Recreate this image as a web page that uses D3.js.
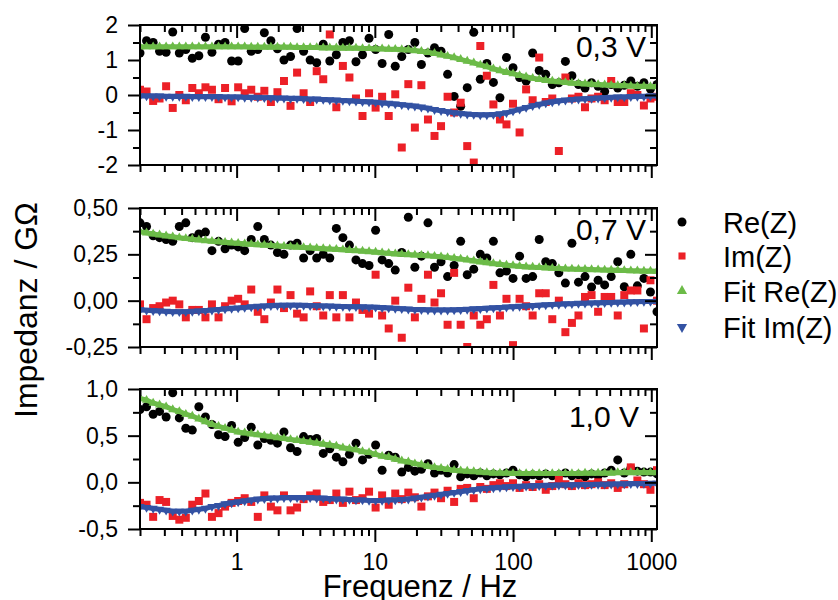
<!DOCTYPE html>
<meta charset="utf-8">
<style>
body {
  margin: 0;
  background: #fff;
}
svg {
  font-family: "Liberation Sans", Arial, sans-serif;
}
.tick line {
  stroke: #000;
  stroke-width: 2px;
}
.tick text {
  font-size: 23px;
  font-family: "Liberation Sans", Arial, sans-serif;
  fill: #000;
}
.frame {
  fill: none;
  stroke: #000;
  stroke-width: 2px;
}
.title {
  font-size: 31px;
  fill: #000;
}
.vlabel {
  font-size: 30px;
  fill: #000;
}
.legend text {
  font-size: 29px;
  fill: #000;
}
.fitline {
  fill: none;
  stroke-width: 5px;
}
</style>
<body>
<script src="https://cdn.jsdelivr.net/npm/d3@7"></script>
<script>
// frequencies of the sweep (Hz)
var freq = [0.200,0.223,0.249,0.277,0.309,0.345,0.385,0.429,0.478,0.533,
  0.595,0.663,0.740,0.825,0.920,1.026,1.144,1.276,1.423,1.587,
  1.770,1.974,2.201,2.455,2.738,3.053,3.404,3.797,4.234,4.722,
  5.266,5.872,6.549,7.303,8.144,9.082,10.13,11.29,12.60,14.05,
  15.66,17.47,19.48,21.72,24.23,27.02,30.13,33.60,37.47,41.78,
  46.60,51.96,57.95,64.62,72.07,80.37,89.62,99.95,111.5,124.3,
  138.6,154.6,172.4,192.2,214.4,239.1,266.6,297.3,331.6,369.8,
  412.4,459.9,512.9,571.9,637.8,711.2,793.2,884.5,986.3,1100];

// 0,3 V
var re03 = [1.2,1.55,1.5,1.25,1.22,1.8,1.2,1.3,1.05,1.12,
  1.65,1.22,1.45,1.5,0.97,0.97,1.9,1.25,1.3,1.78,
  1.55,1.32,1.0,1.1,1.9,1.25,1.0,0.92,1.45,0.97,
  1.15,1.5,1.55,0.95,1.15,1.62,1.3,0.9,1.73,0.82,
  1.1,1.3,1.5,0.87,1.2,1.35,1.25,0.59,-0.04,-0.32,
  0.21,1.79,0.45,0.9,0.36,-0.08,1.07,0.78,0.5,0.4,
  1.2,0.7,0.59,0.3,0.35,0.96,0.55,0.3,0.2,0.35,
  0.25,0.1,0.3,0.2,0.28,0.4,0.25,0.35,0.17,0.3];
var im03 = [0.15,0.1,-0.17,-0.1,0.25,-0.37,0.0,-0.15,0.2,0.05,
  0.22,0.15,-0.12,0.2,-0.18,0.22,0.05,0.15,-0.05,0.12,
  -0.2,0.08,0.4,-0.31,0.64,0.05,-0.2,0.68,0.45,1.73,
  -0.35,0.83,0.5,-0.1,-0.6,0.05,-0.36,-0.05,-0.6,0.02,
  -1.5,0.31,-0.93,0.28,-0.7,-1.17,-0.89,-0.05,-0.5,-0.22,
  -1.46,-1.93,1.4,0.55,-0.27,-0.7,-0.84,-0.25,-1.07,0.16,
  -0.15,1.07,-0.2,-0.1,-1.6,0.5,-0.1,-0.05,-0.35,-0.1,
  -0.05,-0.15,0.4,-0.2,-0.2,0.05,0.0,-0.3,-0.1,-0.05];
var fitRe03 = [1.38,1.38,1.38,1.38,1.38,1.38,1.38,1.38,1.38,1.38,
  1.38,1.38,1.38,1.38,1.38,1.38,1.38,1.37,1.37,1.37,
  1.37,1.37,1.37,1.37,1.36,1.36,1.36,1.36,1.35,1.35,
  1.35,1.34,1.34,1.34,1.33,1.33,1.32,1.32,1.31,1.31,
  1.30,1.29,1.27,1.25,1.22,1.19,1.15,1.11,1.07,1.02,
  0.97,0.92,0.86,0.81,0.75,0.70,0.65,0.61,0.56,0.52,
  0.48,0.45,0.42,0.40,0.38,0.36,0.34,0.33,0.32,0.31,
  0.30,0.29,0.28,0.27,0.27,0.26,0.25,0.25,0.24,0.24];
var fitIm03 = [-0.03,-0.03,-0.03,-0.03,-0.04,-0.04,-0.04,-0.04,-0.05,-0.05,
  -0.05,-0.05,-0.05,-0.06,-0.06,-0.06,-0.07,-0.07,-0.07,-0.08,
  -0.08,-0.09,-0.09,-0.10,-0.10,-0.11,-0.12,-0.12,-0.13,-0.14,
  -0.15,-0.16,-0.17,-0.18,-0.19,-0.20,-0.21,-0.23,-0.24,-0.26,
  -0.28,-0.30,-0.32,-0.35,-0.38,-0.42,-0.45,-0.48,-0.51,-0.53,
  -0.55,-0.56,-0.57,-0.57,-0.56,-0.54,-0.51,-0.46,-0.41,-0.36,
  -0.31,-0.27,-0.23,-0.20,-0.17,-0.15,-0.13,-0.12,-0.11,-0.10,
  -0.09,-0.08,-0.07,-0.06,-0.06,-0.05,-0.04,-0.04,-0.03,-0.03];

// 0,7 V
var re07 = [0.42,0.40,0.35,0.34,0.33,0.32,0.40,0.42,0.34,0.36,
  0.37,0.27,0.32,0.28,0.30,0.29,0.27,0.33,0.40,0.33,
  0.30,0.26,0.25,0.30,0.31,0.23,0.27,0.23,0.25,0.23,
  0.39,0.34,0.30,0.22,0.20,0.19,0.38,0.22,0.20,0.165,
  0.26,0.45,0.18,0.24,0.42,0.18,0.21,0.13,0.19,0.32,
  0.14,0.17,0.25,0.23,0.32,0.15,0.16,0.12,0.24,0.12,
  0.13,0.33,0.21,0.20,0.15,0.095,0.31,0.10,0.13,0.074,
  0.11,0.085,0.13,0.21,0.075,0.25,0.08,0.12,0.047,-0.06];
var im07 = [-0.02,-0.10,-0.04,-0.03,-0.01,0.00,-0.02,-0.09,-0.05,-0.05,
  -0.09,-0.02,-0.09,-0.03,0.00,0.01,-0.02,0.06,-0.06,-0.10,
  -0.01,0.06,-0.04,0.03,-0.07,-0.09,0.05,-0.03,-0.08,0.03,
  -0.09,0.03,-0.09,-0.01,-0.05,-0.07,0.14,-0.08,-0.15,0.00,
  -0.20,0.07,-0.09,0.01,0.14,-0.01,0.04,-0.13,0.15,-0.13,
  -0.25,-0.08,-0.13,-0.10,0.085,-0.08,0.01,-0.24,0.01,-0.03,
  -0.08,0.04,0.04,-0.10,0.00,-0.17,-0.12,-0.08,0.02,0.03,
  -0.06,0.02,0.02,-0.08,0.03,0.055,0.055,-0.15,0.11,0.00];
var fitRe07 = [0.372,0.366,0.360,0.355,0.350,0.345,0.340,0.336,0.332,0.328,
  0.324,0.321,0.318,0.315,0.312,0.310,0.307,0.305,0.302,0.300,
  0.298,0.296,0.293,0.291,0.289,0.287,0.285,0.283,0.281,0.279,
  0.277,0.275,0.272,0.270,0.268,0.265,0.262,0.259,0.256,0.253,
  0.251,0.249,0.247,0.245,0.243,0.240,0.237,0.233,0.229,0.225,
  0.220,0.215,0.210,0.205,0.200,0.196,0.192,0.189,0.186,0.183,
  0.181,0.179,0.177,0.175,0.174,0.172,0.171,0.170,0.169,0.168,
  0.167,0.166,0.165,0.164,0.163,0.162,0.161,0.160,0.160,0.159];
var fitIm07 = [-0.050,-0.052,-0.054,-0.056,-0.058,-0.060,-0.060,-0.060,-0.058,-0.056,
  -0.054,-0.051,-0.048,-0.045,-0.042,-0.040,-0.037,-0.034,-0.031,-0.029,
  -0.027,-0.026,-0.025,-0.025,-0.025,-0.026,-0.027,-0.028,-0.029,-0.030,
  -0.031,-0.032,-0.033,-0.033,-0.034,-0.035,-0.036,-0.038,-0.040,-0.042,
  -0.044,-0.046,-0.048,-0.049,-0.050,-0.051,-0.051,-0.051,-0.050,-0.049,
  -0.047,-0.045,-0.043,-0.041,-0.039,-0.037,-0.035,-0.033,-0.031,-0.029,
  -0.027,-0.025,-0.023,-0.021,-0.020,-0.018,-0.017,-0.015,-0.014,-0.013,
  -0.012,-0.011,-0.010,-0.009,-0.008,-0.007,-0.006,-0.005,-0.005,-0.004];

// 1,0 V
var re10 = [0.78,0.81,0.73,0.76,0.70,0.96,0.69,0.58,0.56,0.81,
  0.70,0.62,0.51,0.49,0.61,0.43,0.48,0.59,0.40,0.47,
  0.45,0.42,0.54,0.37,0.33,0.49,0.46,0.47,0.31,0.36,
  0.27,0.22,0.30,0.42,0.24,0.30,0.40,0.13,0.29,0.27,
  0.11,0.16,0.12,0.14,0.20,0.10,0.13,0.10,0.19,0.06,
  0.09,0.07,0.10,0.07,0.09,0.08,0.10,0.13,0.08,0.06,
  0.08,0.07,0.09,0.07,0.08,0.10,0.07,0.08,0.06,0.09,
  0.07,0.10,0.13,0.24,0.10,0.15,0.12,0.11,0.11,0.09];
var im10 = [-0.22,-0.24,-0.37,-0.19,-0.21,-0.36,-0.40,-0.38,-0.24,-0.20,
  -0.12,-0.37,-0.33,-0.26,-0.22,-0.20,-0.17,-0.21,-0.37,-0.14,
  -0.26,-0.30,-0.14,-0.30,-0.27,-0.18,-0.14,-0.12,-0.21,-0.19,
  -0.12,-0.22,-0.10,-0.19,-0.17,-0.10,-0.27,-0.14,-0.24,-0.12,
  -0.18,-0.11,-0.16,-0.26,-0.15,-0.11,-0.17,-0.09,-0.21,-0.07,
  -0.06,-0.17,-0.05,-0.07,-0.03,-0.01,-0.04,-0.01,-0.06,-0.03,
  -0.05,-0.02,-0.08,-0.04,0.03,-0.02,-0.04,-0.01,-0.03,-0.02,
  0.00,-0.03,-0.01,-0.06,-0.02,0.16,0.02,-0.02,-0.08,0.13];
var fitRe10 = [0.90,0.88,0.85,0.83,0.81,0.78,0.76,0.73,0.71,0.68,
  0.65,0.62,0.60,0.58,0.56,0.54,0.53,0.52,0.51,0.50,
  0.49,0.48,0.47,0.46,0.45,0.44,0.43,0.42,0.41,0.40,
  0.39,0.37,0.36,0.35,0.33,0.32,0.30,0.28,0.27,0.25,
  0.23,0.22,0.20,0.19,0.17,0.16,0.15,0.14,0.13,0.125,
  0.12,0.115,0.11,0.105,0.10,0.10,0.10,0.095,0.095,0.095,
  0.095,0.095,0.095,0.095,0.095,0.095,0.095,0.095,0.10,0.10,
  0.10,0.10,0.10,0.105,0.105,0.105,0.105,0.105,0.105,0.105];
var fitIm10 = [-0.26,-0.27,-0.28,-0.29,-0.30,-0.31,-0.31,-0.31,-0.30,-0.29,
  -0.28,-0.26,-0.25,-0.23,-0.22,-0.21,-0.20,-0.19,-0.18,-0.175,
  -0.17,-0.17,-0.165,-0.165,-0.165,-0.165,-0.165,-0.17,-0.17,-0.175,
  -0.18,-0.18,-0.185,-0.19,-0.19,-0.195,-0.195,-0.195,-0.19,-0.19,
  -0.185,-0.18,-0.17,-0.16,-0.15,-0.14,-0.13,-0.12,-0.11,-0.10,
  -0.09,-0.08,-0.07,-0.065,-0.06,-0.055,-0.05,-0.047,-0.044,-0.041,
  -0.038,-0.036,-0.034,-0.032,-0.030,-0.029,-0.028,-0.026,-0.025,-0.024,
  -0.022,-0.021,-0.020,-0.018,-0.017,-0.015,-0.014,-0.013,-0.012,-0.011];

// ticks
var xTicks = [1, 10, 100, 1000];
var xTickLabels = ["1", "10", "100", "1000"];
var yTicks03 = [-2, -1, 0, 1, 2];
var yTickLabels03 = ["-2", "-1", "0", "1", "2"];
var yTicks07 = [-0.25, 0, 0.25, 0.5];
var yTickLabels07 = ["-0,25", "0,00", "0,25", "0,50"];
var yTicks10 = [-0.5, 0, 0.5, 1.0];
var yTickLabels10 = ["-0,5", "0,0", "0,5", "1,0"];

var voltages = ["0,3 V", "0,7 V", "1,0 V"];
var seriesNames = ["Re(Z)", "Im(Z)", "Fit Re(Z)", "Fit Im(Z)"];

var width = 838,
    height = 600,
    xLeft = 140,
    xRight = 657;

var colors = {
  re: "#000000",
  im: "#ec2027",
  fitRe: "#6cbb48",
  fitIm: "#3352a3"
};

var panels = [
  {top: 25,  bottom: 165, domain: [-2, 2],     ticks: yTicks03, labels: yTickLabels03,
   re: re03, im: im03, fitRe: fitRe03, fitIm: fitIm03, lx: 646, ly: 57},
  {top: 208, bottom: 347, domain: [-0.25, 0.5], ticks: yTicks07, labels: yTickLabels07,
   re: re07, im: im07, fitRe: fitRe07, fitIm: fitIm07, lx: 646, ly: 240},
  {top: 389, bottom: 529, domain: [-0.5, 1.0],  ticks: yTicks10, labels: yTickLabels10,
   re: re10, im: im10, fitRe: fitRe10, fitIm: fitIm10, lx: 639, ly: 427}
];

var svg = d3.select("body").append("svg")
    .attr("width", width)
    .attr("height", height);

var x = d3.scaleLog()
    .domain([0.2, 1100])
    .range([xLeft, xRight]);

var xMinor = x.ticks().filter(function(d) { return xTicks.indexOf(d) < 0; });

var triUp = d3.symbol().type(d3.symbolTriangle).size(36)();
var square = d3.symbol().type(d3.symbolSquare).size(64)();

panels.forEach(function(p, k) {
  var y = d3.scaleLinear().domain(p.domain).range([p.bottom, p.top]);
  var yMinor = d3.pairs(p.ticks).map(function(d) { return (d[0] + d[1]) / 2; });
  var g = svg.append("g");

  g.append("clipPath")
      .attr("id", "clip" + k)
    .append("rect")
      .attr("x", xLeft)
      .attr("y", p.top)
      .attr("width", xRight - xLeft)
      .attr("height", p.bottom - p.top);

  var plot = g.append("g").attr("clip-path", "url(#clip" + k + ")");

  var pts = function(vals) {
    return freq.map(function(f, i) { return {f: f, v: vals[i]}; });
  };
  var line = d3.line()
      .x(function(d) { return x(d.f); })
      .y(function(d) { return y(d.v); });

  plot.selectAll(".re")
      .data(pts(p.re))
    .enter().append("circle")
      .attr("class", "re")
      .attr("cx", function(d) { return x(d.f); })
      .attr("cy", function(d) { return y(d.v); })
      .attr("r", 4.5)
      .attr("fill", colors.re);

  plot.selectAll(".im")
      .data(pts(p.im))
    .enter().append("path")
      .attr("class", "im")
      .attr("d", square)
      .attr("transform", function(d) { return "translate(" + x(d.f) + "," + y(d.v) + ")"; })
      .attr("fill", colors.im);

  // fit Re: dense symbols, backed by a line so the band reads solid
  plot.append("path")
      .datum(pts(p.fitRe))
      .attr("class", "fitline")
      .attr("stroke", colors.fitRe)
      .attr("d", line);
  plot.selectAll(".fitre")
      .data(pts(p.fitRe))
    .enter().append("path")
      .attr("class", "fitre")
      .attr("d", triUp)
      .attr("transform", function(d) { return "translate(" + x(d.f) + "," + y(d.v) + ")"; })
      .attr("fill", colors.fitRe);

  plot.append("path")
      .datum(pts(p.fitIm))
      .attr("class", "fitline")
      .attr("stroke", colors.fitIm)
      .attr("d", line);
  plot.selectAll(".fitim")
      .data(pts(p.fitIm))
    .enter().append("path")
      .attr("class", "fitim")
      .attr("d", triUp)
      .attr("transform", function(d) { return "translate(" + x(d.f) + "," + y(d.v) + ") rotate(180)"; })
      .attr("fill", colors.fitIm);

  // axes: outward on left/bottom, inward on top/right
  var fmtY = function(d) { return p.labels[p.ticks.indexOf(d)]; };
  var fmtX = function(d) { return xTickLabels[xTicks.indexOf(d)]; };

  g.append("g").attr("transform", "translate(" + xLeft + ",0)")
      .call(d3.axisLeft(y).tickValues(p.ticks).tickSize(12).tickPadding(10).tickFormat(fmtY));
  g.append("g").attr("transform", "translate(" + xLeft + ",0)")
      .call(d3.axisLeft(y).tickValues(yMinor).tickSize(7).tickFormat(""));
  g.append("g").attr("transform", "translate(" + xRight + ",0)")
      .call(d3.axisRight(y).tickValues(p.ticks).tickSize(-12).tickFormat(""));
  g.append("g").attr("transform", "translate(" + xRight + ",0)")
      .call(d3.axisRight(y).tickValues(yMinor).tickSize(-7).tickFormat(""));

  g.append("g").attr("transform", "translate(0," + p.bottom + ")")
      .call(d3.axisBottom(x).tickValues(xTicks).tickSize(13).tickPadding(12)
        .tickFormat(k == 2 ? fmtX : ""));
  g.append("g").attr("transform", "translate(0," + p.bottom + ")")
      .call(d3.axisBottom(x).tickValues(xMinor).tickSize(7).tickFormat(""));
  g.append("g").attr("transform", "translate(0," + p.top + ")")
      .call(d3.axisTop(x).tickValues(xTicks).tickSize(-13).tickFormat(""));
  g.append("g").attr("transform", "translate(0," + p.top + ")")
      .call(d3.axisTop(x).tickValues(xMinor).tickSize(-7).tickFormat(""));

  g.selectAll(".domain").remove();

  g.append("rect")
      .attr("class", "frame")
      .attr("x", xLeft)
      .attr("y", p.top)
      .attr("width", xRight - xLeft)
      .attr("height", p.bottom - p.top);

  g.append("text")
      .attr("class", "vlabel")
      .attr("x", p.lx)
      .attr("y", p.ly)
      .attr("text-anchor", "end")
      .text(voltages[k]);
});

// axis titles
svg.append("text")
    .attr("class", "title")
    .attr("x", 420)
    .attr("y", 597)
    .attr("text-anchor", "middle")
    .text("Frequenz / Hz");

svg.append("text")
    .attr("class", "title")
    .attr("transform", "translate(37,310) rotate(-90)")
    .attr("text-anchor", "middle")
    .style("font-size", "32px")
    .text("Impedanz / G\u03A9");

// legend
var legend = svg.append("g").attr("class", "legend");
var legendY = [222, 256, 291, 327];
var legendSym = [
  function(s) { s.append("circle").attr("r", 4.5).attr("fill", colors.re); },
  function(s) { s.append("path").attr("d", d3.symbol().type(d3.symbolSquare).size(50)()).attr("fill", colors.im); },
  function(s) { s.append("path").attr("d", d3.symbol().type(d3.symbolTriangle).size(45)()).attr("fill", colors.fitRe); },
  function(s) { s.append("path").attr("d", d3.symbol().type(d3.symbolTriangle).size(45)())
      .attr("transform", "rotate(180)").attr("fill", colors.fitIm); }
];
seriesNames.forEach(function(name, i) {
  var row = legend.append("g").attr("transform", "translate(682," + legendY[i] + ")");
  legendSym[i](row);
  row.append("text")
      .attr("x", 41)
      .attr("y", 11)
      .text(name);
});
</script>
